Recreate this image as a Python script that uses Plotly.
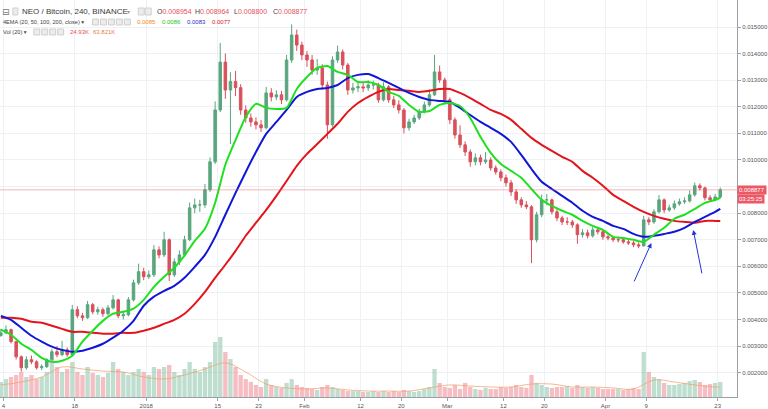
import pandas as pd
import plotly.graph_objects as go

# ---------------- data (daily OHLC) ----------------
opens = [0.00340, 0.00350, 0.00362, 0.00317, 0.00260, 0.00219, 0.00249, 0.00241, 0.00219, 0.00223,
 0.00249, 0.00279, 0.00268, 0.00286, 0.00268, 0.00437, 0.00414, 0.00407, 0.00456, 0.00429,
 0.00437, 0.00422, 0.00444, 0.00474, 0.00414, 0.00418, 0.00474, 0.00538, 0.00580, 0.00561,
 0.00568, 0.00662, 0.00643, 0.00700, 0.00568, 0.00617, 0.00643, 0.00700, 0.00820, 0.00831,
 0.00831, 0.00888, 0.00993, 0.01188, 0.01368, 0.01263, 0.01295, 0.01272, 0.01188, 0.01158,
 0.01143, 0.01132, 0.01121, 0.01252, 0.01237, 0.01245, 0.01226, 0.01376, 0.01470, 0.01432,
 0.01395, 0.01376, 0.01338, 0.01346, 0.01282, 0.01132, 0.01376, 0.01406, 0.01357, 0.01263,
 0.01271, 0.01275, 0.01271, 0.01282, 0.01282, 0.01226, 0.01275, 0.01226, 0.01207, 0.01188,
 0.01121, 0.01143, 0.01158, 0.01181, 0.01207, 0.01245, 0.01331, 0.01301, 0.01226, 0.01151,
 0.01094, 0.01057, 0.01030, 0.00993, 0.01008, 0.00993, 0.01000, 0.00970, 0.00955, 0.00933,
 0.00914, 0.00880, 0.00850, 0.00831, 0.00824, 0.00700, 0.00794, 0.00850, 0.00850, 0.00805,
 0.00782, 0.00767, 0.00767, 0.00756, 0.00719, 0.00726, 0.00715, 0.00737, 0.00730, 0.00711,
 0.00707, 0.00700, 0.00700, 0.00692, 0.00688, 0.00681, 0.00677, 0.00775, 0.00767, 0.00805,
 0.00850, 0.00812, 0.00820, 0.00835, 0.00843, 0.00846, 0.00869, 0.00903, 0.00895, 0.00858,
 0.00850, 0.00861]

closes = [0.00350, 0.00362, 0.00317, 0.00260, 0.00219, 0.00249, 0.00241, 0.00219, 0.00223, 0.00249,
 0.00279, 0.00268, 0.00286, 0.00268, 0.00437, 0.00414, 0.00407, 0.00456, 0.00429, 0.00437,
 0.00422, 0.00444, 0.00474, 0.00414, 0.00418, 0.00474, 0.00538, 0.00580, 0.00561, 0.00568,
 0.00662, 0.00643, 0.00700, 0.00568, 0.00617, 0.00643, 0.00700, 0.00820, 0.00831, 0.00831,
 0.00888, 0.00993, 0.01188, 0.01368, 0.01263, 0.01295, 0.01272, 0.01188, 0.01158, 0.01143,
 0.01132, 0.01121, 0.01252, 0.01237, 0.01245, 0.01226, 0.01376, 0.01470, 0.01432, 0.01395,
 0.01376, 0.01338, 0.01346, 0.01282, 0.01132, 0.01376, 0.01406, 0.01357, 0.01263, 0.01271,
 0.01275, 0.01271, 0.01282, 0.01282, 0.01226, 0.01275, 0.01226, 0.01207, 0.01188, 0.01121,
 0.01143, 0.01158, 0.01181, 0.01207, 0.01245, 0.01331, 0.01301, 0.01226, 0.01151, 0.01094,
 0.01057, 0.01030, 0.00993, 0.01008, 0.00993, 0.01000, 0.00970, 0.00955, 0.00933, 0.00914,
 0.00880, 0.00850, 0.00831, 0.00824, 0.00700, 0.00794, 0.00850, 0.00850, 0.00805, 0.00782,
 0.00767, 0.00767, 0.00756, 0.00719, 0.00726, 0.00715, 0.00737, 0.00730, 0.00711, 0.00707,
 0.00700, 0.00700, 0.00692, 0.00688, 0.00681, 0.00677, 0.00775, 0.00767, 0.00805, 0.00850,
 0.00812, 0.00820, 0.00835, 0.00843, 0.00846, 0.00869, 0.00903, 0.00895, 0.00858, 0.00850,
 0.00861, 0.008877]

highs = [0.00365, 0.00378, 0.00366, 0.00320, 0.00265, 0.00262, 0.00265, 0.00247, 0.00232, 0.00255,
 0.00290, 0.00300, 0.00320, 0.00295, 0.00455, 0.00450, 0.00425, 0.00470, 0.00462, 0.00448,
 0.00445, 0.00455, 0.00492, 0.00478, 0.00432, 0.00485, 0.00550, 0.00610, 0.00595, 0.00585,
 0.00680, 0.00675, 0.00730, 0.00705, 0.00630, 0.00660, 0.00715, 0.00840, 0.00855, 0.00850,
 0.00910, 0.01010, 0.01220, 0.01440, 0.01400, 0.01330, 0.01335, 0.01285, 0.01205, 0.01175,
 0.01160, 0.01150, 0.01275, 0.01270, 0.01262, 0.01260, 0.01395, 0.01510, 0.01490, 0.01445,
 0.01410, 0.01395, 0.01380, 0.01360, 0.01295, 0.01390, 0.01430, 0.01415, 0.01365, 0.01290,
 0.01290, 0.01292, 0.01300, 0.01298, 0.01290, 0.01292, 0.01282, 0.01240, 0.01225, 0.01195,
 0.01155, 0.01170, 0.01192, 0.01220, 0.01265, 0.01395, 0.01355, 0.01310, 0.01235, 0.01160,
 0.01130, 0.01070, 0.01040, 0.01025, 0.01020, 0.01030, 0.01010, 0.00980, 0.00965, 0.00945,
 0.00925, 0.00890, 0.00860, 0.00845, 0.00830, 0.00805, 0.00870, 0.00872, 0.00855, 0.00815,
 0.00790, 0.00785, 0.00775, 0.00762, 0.00740, 0.00738, 0.00748, 0.00745, 0.00735, 0.00722,
 0.00715, 0.00712, 0.00708, 0.00700, 0.00695, 0.00690, 0.00790, 0.00785, 0.00815, 0.00868,
 0.00855, 0.00832, 0.00848, 0.00855, 0.00860, 0.00885, 0.00915, 0.00912, 0.00900, 0.00868,
 0.00872, 0.008964]

lows = [0.00335, 0.00345, 0.00310, 0.00250, 0.00204, 0.00212, 0.00232, 0.00212, 0.00210, 0.00218,
 0.00245, 0.00258, 0.00262, 0.00260, 0.00265, 0.00405, 0.00395, 0.00402, 0.00420, 0.00418,
 0.00410, 0.00415, 0.00438, 0.00405, 0.00400, 0.00412, 0.00468, 0.00530, 0.00548, 0.00552,
 0.00560, 0.00630, 0.00635, 0.00545, 0.00560, 0.00605, 0.00635, 0.00695, 0.00800, 0.00805,
 0.00820, 0.00880, 0.00985, 0.01180, 0.01230, 0.01060, 0.01240, 0.01170, 0.01140, 0.01125,
 0.01115, 0.01105, 0.01115, 0.01220, 0.01225, 0.01210, 0.01220, 0.01365, 0.01410, 0.01375,
 0.01350, 0.01320, 0.01320, 0.01265, 0.01080, 0.01125, 0.01365, 0.01340, 0.01245, 0.01250,
 0.01255, 0.01255, 0.01260, 0.01265, 0.01215, 0.01220, 0.01215, 0.01195, 0.01175, 0.01100,
 0.01110, 0.01135, 0.01150, 0.01175, 0.01200, 0.01240, 0.01290, 0.01215, 0.01135, 0.01080,
 0.01045, 0.01015, 0.00975, 0.00980, 0.00980, 0.00985, 0.00960, 0.00945, 0.00920, 0.00900,
 0.00865, 0.00835, 0.00820, 0.00815, 0.00612, 0.00690, 0.00785, 0.00830, 0.00795, 0.00770,
 0.00755, 0.00755, 0.00745, 0.00685, 0.00708, 0.00705, 0.00708, 0.00720, 0.00700, 0.00698,
 0.00692, 0.00690, 0.00685, 0.00680, 0.00672, 0.00668, 0.00675, 0.00755, 0.00760, 0.00800,
 0.00800, 0.00805, 0.00812, 0.00828, 0.00835, 0.00840, 0.00862, 0.00885, 0.00848, 0.00842,
 0.00845, 0.00855]

# typical 4h volume per day (K NEO)
volumes = [96, 115, 128, 141, 160, 128, 141, 115, 128, 160,
 243, 192, 160, 179, 224, 160, 141, 192, 154, 141,
 128, 154, 224, 179, 160, 141, 160, 179, 160, 141,
 192, 179, 192, 205, 160, 141, 179, 224, 179, 160,
 192, 224, 352, 384, 288, 243, 192, 141, 115, 96,
 77, 64, 115, 77, 64, 58, 90, 115, 77, 64,
 58, 51, 45, 64, 77, 64, 51, 45, 38, 38,
 38, 32, 32, 38, 32, 38, 32, 38, 32, 45,
 38, 32, 38, 51, 64, 179, 90, 64, 58, 77,
 51, 90, 64, 51, 45, 58, 51, 51, 64, 58,
 64, 77, 64, 58, 141, 90, 77, 64, 58, 64,
 64, 70, 58, 77, 64, 58, 64, 58, 51, 51,
 51, 51, 45, 51, 58, 51, 288, 160, 128, 115,
 90, 77, 77, 83, 90, 102, 109, 96, 77, 83,
 90, 96]

# EMA lines read every 2 days (+ last day)
ema50 = [0.00362, 0.00343, 0.00309, 0.00286, 0.00256, 0.00241, 0.00245, 0.00264, 0.00317, 0.00358,
 0.00395, 0.00422, 0.00429, 0.00441, 0.00474, 0.00523, 0.00561, 0.00595, 0.00640, 0.00696,
 0.00741, 0.00839, 0.00982, 0.01075, 0.01162, 0.01211, 0.01196, 0.01192, 0.01196, 0.01267,
 0.01312, 0.01346, 0.01353, 0.01331, 0.01320, 0.01293, 0.01293, 0.01282, 0.01256, 0.01241,
 0.01207, 0.01181, 0.01184, 0.01207, 0.01214, 0.01203, 0.01158, 0.01087, 0.01027, 0.00985,
 0.00959, 0.00933, 0.00891, 0.00850, 0.00827, 0.00809, 0.00794, 0.00771, 0.00752, 0.00737,
 0.00711, 0.00707, 0.00700, 0.00692, 0.00719, 0.00745, 0.00779, 0.00794, 0.00816, 0.00839,
 0.00850, 0.00858]

ema100 = [0.00414, 0.00399, 0.00369, 0.00339, 0.00317, 0.00298, 0.00286, 0.00279, 0.00283, 0.00294,
 0.00309, 0.00332, 0.00358, 0.00395, 0.00452, 0.00486, 0.00508, 0.00527, 0.00557, 0.00598,
 0.00643, 0.00711, 0.00794, 0.00876, 0.00955, 0.01030, 0.01098, 0.01143, 0.01188, 0.01237,
 0.01256, 0.01267, 0.01271, 0.01282, 0.01308, 0.01320, 0.01323, 0.01308, 0.01290, 0.01271,
 0.01252, 0.01237, 0.01226, 0.01222, 0.01218, 0.01196, 0.01169, 0.01143, 0.01121, 0.01098,
 0.01068, 0.01019, 0.00966, 0.00918, 0.00891, 0.00865, 0.00839, 0.00809, 0.00786, 0.00771,
 0.00752, 0.00741, 0.00722, 0.00711, 0.00715, 0.00722, 0.00730, 0.00745, 0.00767, 0.00786,
 0.00805, 0.00816]

ema200 = [0.00407, 0.00407, 0.00403, 0.00392, 0.00388, 0.00377, 0.00365, 0.00354, 0.00354, 0.00350,
 0.00347, 0.00347, 0.00350, 0.00350, 0.00358, 0.00369, 0.00384, 0.00399, 0.00422, 0.00459,
 0.00504, 0.00557, 0.00606, 0.00658, 0.00715, 0.00764, 0.00812, 0.00865, 0.00921, 0.00978,
 0.01023, 0.01060, 0.01098, 0.01136, 0.01181, 0.01214, 0.01237, 0.01256, 0.01267, 0.01263,
 0.01260, 0.01256, 0.01260, 0.01267, 0.01267, 0.01252, 0.01233, 0.01211, 0.01188, 0.01173,
 0.01151, 0.01117, 0.01083, 0.01057, 0.01034, 0.01012, 0.00993, 0.00959, 0.00933, 0.00903,
 0.00869, 0.00846, 0.00824, 0.00805, 0.00790, 0.00779, 0.00771, 0.00767, 0.00764, 0.00771,
 0.00771, 0.00771]

# volume moving average read every 4 days (+ last day)
vol_ma = [77, 96, 128, 192, 179, 166, 160, 128, 115, 141, 179, 218, 160, 83, 58, 51, 58, 45, 38,
 38, 38, 58, 77, 70, 64, 64, 83, 83, 64, 64, 58, 51, 109, 96, 77, 64, 64]

tick_dates = ["2017-12-04", "2017-12-18", "2018-01-01", "2018-01-15", "2018-01-23", "2018-02-01",
              "2018-02-12", "2018-02-20", "2018-03-01", "2018-03-12", "2018-03-20", "2018-04-01",
              "2018-04-09", "2018-04-23"]
tick_text = ["4", "18", "2018", "15", "23", "Feb", "12", "20", "Mar", "12", "20", "Apr", "9", "23"]
price_ticks = [0.002, 0.003, 0.004, 0.005, 0.006, 0.007, 0.008, 0.009, 0.010, 0.011, 0.012,
               0.013, 0.014, 0.015]
# 0.009000 is hidden behind the last-price label in the reference
price_tick_text = ["0.002000", "0.003000", "0.004000", "0.005000", "0.006000", "0.007000",
                   "0.008000", "", "0.010000", "0.011000", "0.012000", "0.013000", "0.014000",
                   "0.015000"]

# ---------------- positions ----------------
base = pd.Timestamp("2017-12-03 12:00")
dates = [base + pd.Timedelta(days=i) for i in range(len(closes))]
ema_days = list(range(0, 141, 2)) + [141]
ema_dates = [base + pd.Timedelta(days=d) for d in ema_days]
ma_days = list(range(0, 141, 4)) + [141]
ma_dates = [base + pd.Timedelta(days=d) for d in ma_days]

UP = "#5aa57e"
DN = "#d9505b"
vol_colors = ["rgba(110,185,150,0.45)" if c >= o else "rgba(235,110,120,0.45)"
              for o, c in zip(opens, closes)]

PW, PH = 741, 397  # plot area in px
def px(x):
    return x / PW
def py(y):
    return 1 - y / PH

fig = go.Figure()
fig.add_trace(go.Bar(x=dates, y=volumes, marker=dict(color=vol_colors, line=dict(width=0)),
                     yaxis="y2", showlegend=False, hoverinfo="skip"))
fig.add_trace(go.Scatter(x=ma_dates, y=vol_ma, mode="lines", yaxis="y2",
                         line=dict(color="rgba(240,160,110,0.75)", width=1, shape="spline"),
                         showlegend=False, hoverinfo="skip"))
fig.add_trace(go.Candlestick(x=dates, open=opens, high=highs, low=lows, close=closes,
                             increasing=dict(line=dict(color=UP, width=1), fillcolor=UP),
                             decreasing=dict(line=dict(color=DN, width=1), fillcolor=DN),
                             showlegend=False))
for vals, col in [(ema200, "#e3141b"), (ema100, "#1016d8"), (ema50, "#1fe01f")]:
    fig.add_trace(go.Scatter(x=ema_dates, y=vals, mode="lines",
                             line=dict(color=col, width=2, shape="spline", smoothing=0.6),
                             showlegend=False, hoverinfo="skip"))

last = closes[-1]
fig.add_shape(type="line", xref="paper", x0=0, x1=1, yref="y", y0=last, y1=last,
              line=dict(color="rgba(235,90,100,0.45)", width=1))

ann = []
FONT = "Liberation Sans, Arial, DejaVu Sans"
def txt(x, y, s, size, color):
    ann.append(dict(xref="paper", yref="paper", x=px(x), y=py(y), xanchor="left", yanchor="middle",
                    text=s, showarrow=False, font=dict(family=FONT, size=size, color=color),
                    borderpad=0))

txt(1, 11.5, "⊟", 9, "#777")
txt(21, 11.5, "NEO / Bitcoin, 240, BINANCE", 8, "#3a3a3a")
txt(127, 11.5, "▾", 6, "#999")
txt(157, 11.5, "O<span style='color:#e8505b'>0.008954</span>", 7, "#444")
txt(195, 11.5, "H<span style='color:#e8505b'>0.008964</span>", 7, "#444")
txt(234, 11.5, "L<span style='color:#e8505b'>0.008800</span>", 7, "#444")
txt(273, 11.5, "C<span style='color:#e8505b'>0.008877</span>", 7, "#444")
txt(2, 21.7, "4EMA (20, 50, 100, 200, close) ▾", 5.6, "#444")
txt(137, 21.7, "0.0085", 6, "#f08a24")
txt(162, 21.7, "0.0086", 6, "#18c818")
txt(187, 21.7, "0.0083", 6, "#2a2ad0")
txt(212, 21.7, "0.0077", 6, "#d8202a")
txt(2, 32.3, "Vol (20) ▾", 5.6, "#444")
txt(69, 32.3, "24.93K", 6, "#e8505b")
txt(92, 32.3, "63.821K", 6, "#ee7a45")

shapes_px = [(13, 8, 18, 15)]
shapes_px += [(139, 8, 145, 15), (146, 8, 152, 15)]
shapes_px += [(93 + 8 * i, 19, 99 + 8 * i, 25) for i in range(5)]
shapes_px += [(34 + 8 * i, 29, 40 + 8 * i, 35) for i in range(4)]
for (x0, y0, x1, y1) in shapes_px:
    fig.add_shape(type="rect", xref="paper", yref="paper", x0=px(x0), x1=px(x1), y0=py(y0), y1=py(y1),
                  line=dict(color="#cfcfcf", width=1), fillcolor="#ececec")

# price labels on the right axis
ann.append(dict(xref="paper", yref="y", x=1.0, y=last, xanchor="left", yanchor="middle",
                text="0.008877", showarrow=False, bgcolor="#eb5866", borderpad=1,
                font=dict(family=FONT, size=6, color="white")))
ann.append(dict(xref="paper", yref="y", x=1.0, y=last, yshift=-9, xanchor="left", yanchor="middle",
                text="03:25:25", showarrow=False, bgcolor="#eb5866", borderpad=1,
                font=dict(family=FONT, size=6, color="white")))

# hand-drawn arrows
for head, tail in [(("2018-04-10 00:00", 0.00688), ("2018-04-06 12:00", 0.00538)),
                   (("2018-04-18 05:00", 0.00737), ("2018-04-19 23:00", 0.00568))]:
    ann.append(dict(x=head[0], y=head[1], ax=tail[0], ay=tail[1], xref="x", yref="y",
                    axref="x", ayref="y", text="", showarrow=True, arrowhead=2, arrowsize=1,
                    arrowwidth=1, arrowcolor="#2236d6"))

fig.update_layout(
    width=768, height=409, margin=dict(l=0, r=27, t=0, b=12),
    paper_bgcolor="white", plot_bgcolor="white",
    annotations=ann, bargap=0.15, showlegend=False,
    xaxis=dict(type="date", range=["2017-12-03 08:00", "2018-04-26 18:45"],
               tickvals=tick_dates, ticktext=tick_text, showgrid=True, gridcolor="#eef1f5",
               showline=True, linecolor="#9aa0a6", ticks="outside", ticklen=3, tickcolor="#9aa0a6",
               tickfont=dict(family=FONT, size=6, color="#555"), rangeslider=dict(visible=False),
               zeroline=False),
    yaxis=dict(side="right", range=[0.001088, 0.016015], tickvals=price_ticks,
               ticktext=price_tick_text,
               showgrid=True, gridcolor="#eef1f5", showline=True, linecolor="#9aa0a6",
               ticks="outside", ticklen=3, tickcolor="#9aa0a6",
               tickfont=dict(family=FONT, size=6, color="#555"), zeroline=False),
    yaxis2=dict(overlaying="y", range=[0, 2540], visible=False),
)

fig.write_html("out.html")
